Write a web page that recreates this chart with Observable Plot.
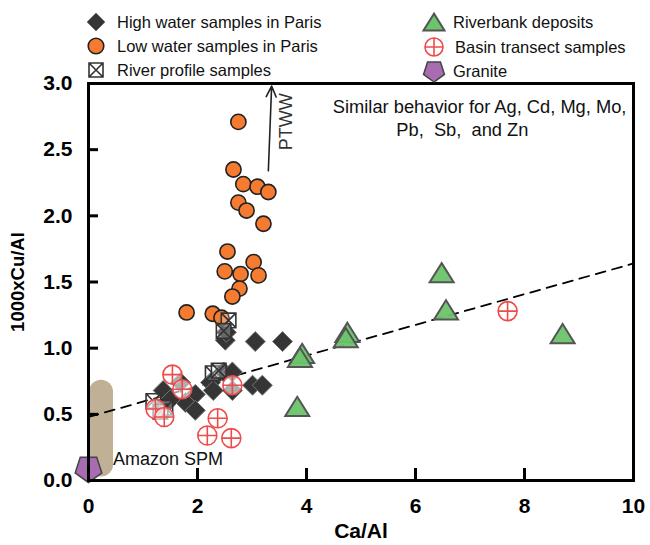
<!DOCTYPE html>
<html><head><meta charset="utf-8">
<script src="https://cdn.jsdelivr.net/npm/d3@7"></script>
<script src="https://cdn.jsdelivr.net/npm/@observablehq/plot@0.6"></script>
<style>
body{margin:0;background:#fff;font-family:"Liberation Sans",Arial,Helvetica,sans-serif;}
#wrap{position:relative;width:650px;height:545px;}
#legend{position:absolute;left:0;top:0;width:650px;height:82px;}
#legend svg{position:absolute;overflow:visible;}
#legend span{position:absolute;font-size:16.5px;line-height:20px;color:#111;white-space:nowrap;transform:translateY(-50%);}
</style></head><body><div id="wrap"><div id="chart"></div><div id="legend"></div></div>
<script>
// ---- data (Ca/Al, 1000xCu/Al) ----
const highWater = [[2.51,1.06],[2.53,1.12],[3.06,1.05],[3.56,1.05],[1.37,0.68],[1.69,0.74],[1.96,0.65],[1.78,0.59],[1.96,0.53],[1.50,0.61],[2.24,0.74],[2.29,0.68],[2.48,0.82],[2.64,0.82],[2.64,0.68],[3.01,0.72],[3.19,0.72]];
const lowWater = [[2.75,2.71],[2.66,2.35],[2.84,2.24],[3.10,2.22],[3.30,2.18],[2.75,2.10],[2.90,2.04],[3.21,1.94],[2.55,1.73],[3.03,1.65],[2.50,1.58],[2.79,1.56],[3.12,1.55],[2.77,1.45],[2.64,1.39],[1.80,1.27],[2.28,1.26],[2.44,1.23]];
const riverProfile = [[2.57,1.21],[2.48,1.13],[1.19,0.60],[1.41,0.55],[1.32,0.52],[2.28,0.81],[2.39,0.83]];
const riverbank = [[6.48,1.57],[6.56,1.29],[4.75,1.12],[4.72,1.08],[3.92,0.96],[3.88,0.93],[3.83,0.56],[8.70,1.11]];
const basin = [[1.54,0.80],[1.72,0.69],[2.64,0.72],[1.23,0.54],[1.39,0.48],[2.37,0.47],[2.18,0.34],[2.62,0.32],[7.69,1.28]];
const granite = [[0.0,0.09]];
const amazonSPM = [[0.23,0.12],[0.23,0.67]];
const trendLine = [[0,0.48],[10,1.64]];
const ptwwArrow = [{x1:3.30,y1:2.34,x2:3.36,y2:2.98}];
const xTicks = [0,2,4,6,8,10];
const yTicks = [0,0.5,1,1.5,2,2.5,3];

// ---- custom symbols ----
const rad = s => Math.sqrt(s/Math.PI);
const symDiamond = {draw(c,s){const r=rad(s);c.moveTo(0,-r);c.lineTo(r,0);c.lineTo(0,r);c.lineTo(-r,0);c.closePath();}};
const symBoxX = {draw(c,s){const r=rad(s);c.moveTo(-r,-r);c.lineTo(r,-r);c.lineTo(r,r);c.lineTo(-r,r);c.closePath();c.moveTo(-r,-r);c.lineTo(r,r);c.moveTo(r,-r);c.lineTo(-r,r);}};
const symCirclePlus = {draw(c,s){const r=rad(s);c.moveTo(r,0);c.arc(0,0,r,0,2*Math.PI);c.moveTo(0,-r);c.lineTo(0,r);c.moveTo(-r,0);c.lineTo(r,0);}};
const symCircle = {draw(c,s){const r=rad(s);c.moveTo(r,0);c.arc(0,0,r,0,2*Math.PI);}};
const symTri = {draw(c,s){const r=rad(s);c.moveTo(0,-0.8*r);c.lineTo(r,0.8*r);c.lineTo(-r,0.8*r);c.closePath();}};
const symPent = {draw(c,s){const r=rad(s);for(let i=0;i<5;i++){const a=Math.PI/2+i*2*Math.PI/5;const px=r*Math.cos(a),py=r*Math.sin(a);i?c.lineTo(px,py):c.moveTo(px,py);}c.closePath();}};

const styles = {
  high:{symbol:symDiamond,r:10,fill:"#353535",stroke:"#777",strokeWidth:1},
  low:{symbol:symCircle,r:7.6,fill:"#f47b2f",stroke:"#222",strokeWidth:1.6},
  prof:{symbol:symBoxX,r:7.3,fill:"white",fillOpacity:0.25,stroke:"#333",strokeWidth:1.6},
  bank:{symbol:symTri,r:12,fill:"#6cc46c",stroke:"#555",strokeWidth:2},
  basin:{symbol:symCirclePlus,r:9.5,fill:"white",fillOpacity:0.6,stroke:"#ee4b4b",strokeWidth:1.6},
  gran:{symbol:symPent,r:14,fill:"#a86cb0",stroke:"#444",strokeWidth:1.5}
};
const X = d=>d[0], Y = d=>d[1];

const chart = Plot.plot({
  width:650, height:545,
  marginLeft:88, marginRight:17, marginTop:83, marginBottom:65,
  x:{domain:[0,10]}, y:{domain:[0,3]},
  style:{fontFamily:"'Liberation Sans', Arial, sans-serif", color:"black", background:"white"},
  marks:[
    Plot.line(amazonSPM,{x:X,y:Y,stroke:"#bfb096",strokeWidth:24,strokeLinecap:"round"}),
    Plot.line(trendLine,{x:X,y:Y,stroke:"black",strokeWidth:1.8,strokeDasharray:"10,7"}),
    Plot.dot(riverbank,{x:X,y:Y,...styles.bank,fillOpacity:0.95}),
    Plot.dot(lowWater,{x:X,y:Y,...styles.low}),
    Plot.dot(highWater,{x:X,y:Y,...styles.high}),
    Plot.dot(riverProfile,{x:X,y:Y,...styles.prof}),
    Plot.dot(basin,{x:X,y:Y,...styles.basin}),
    Plot.dot(granite,{x:X,y:Y,...styles.gran}),
    Plot.text(["Amazon SPM"],{x:0.45,y:0.16,textAnchor:"start",fontSize:18,fill:"#111"}),
    Plot.arrow(ptwwArrow,{x1:"x1",y1:"y1",x2:"x2",y2:"y2",stroke:"#222",strokeWidth:1.6,headLength:11,headAngle:50}),
    Plot.text(["PTWW"],{x:3.63,y:2.71,rotate:-90,fontSize:18,fill:"#333"}),
    Plot.text(["Similar behavior for Ag, Cd, Mg, Mo,"],{x:9.87,y:2.82,textAnchor:"end",fontSize:18.3,fill:"#111"}),
    Plot.text(["Pb,  Sb,  and Zn"],{x:6.86,y:2.65,fontSize:18.3,fill:"#111"}),
    Plot.frame({stroke:"black",strokeWidth:3}),
    Plot.axisX({ticks:xTicks,tickSize:-12,tickPadding:30,strokeWidth:3,fontSize:21,fontWeight:"bold",label:null}),
    Plot.axisY({ticks:yTicks,tickSize:-10,tickPadding:26,strokeWidth:3,fontSize:21,fontWeight:"bold",tickFormat:d3.format(".1f"),label:null}),
    Plot.text(["Ca/Al"],{frameAnchor:"bottom",dy:51,lineAnchor:"middle",textAnchor:"middle",fontSize:21,fontWeight:"bold"}),
    Plot.text(["1000xCu/Al"],{frameAnchor:"left",dx:-70,rotate:-90,textAnchor:"middle",lineAnchor:"middle",fontSize:18.5,fontWeight:"bold"})
  ]
});
document.getElementById("chart").appendChild(chart);

// ---- legend ----
const legendItems = [
  {label:"High water samples in Paris",st:styles.high,r:9,cx:95.5,cy:22,tx:117},
  {label:"Low water samples in Paris",st:styles.low,r:7.8,cx:95.5,cy:46,tx:117},
  {label:"River profile samples",st:styles.prof,r:7,cx:95.5,cy:70,tx:117},
  {label:"Riverbank deposits",st:styles.bank,r:10.5,cx:434,cy:22,tx:453},
  {label:"Basin transect samples",st:styles.basin,r:9,cx:434,cy:47,tx:455},
  {label:"Granite",st:styles.gran,r:11,cx:434,cy:71,tx:453}
];
const leg = d3.select("#legend");
for (const it of legendItems) {
  const p = d3.path(); it.st.symbol.draw(p, Math.PI*it.r*it.r);
  const svg = leg.append("svg").attr("width",1).attr("height",1).style("left",it.cx+"px").style("top",it.cy+"px");
  svg.append("path").attr("d",p.toString()).attr("fill",it.st.fill).attr("fill-opacity",it.st.fillOpacity ?? 1)
    .attr("stroke",it.st.stroke).attr("stroke-width",it.st.strokeWidth);
  leg.append("span").style("left",it.tx+"px").style("top",it.cy+"px").text(it.label);
}
</script></body></html>
